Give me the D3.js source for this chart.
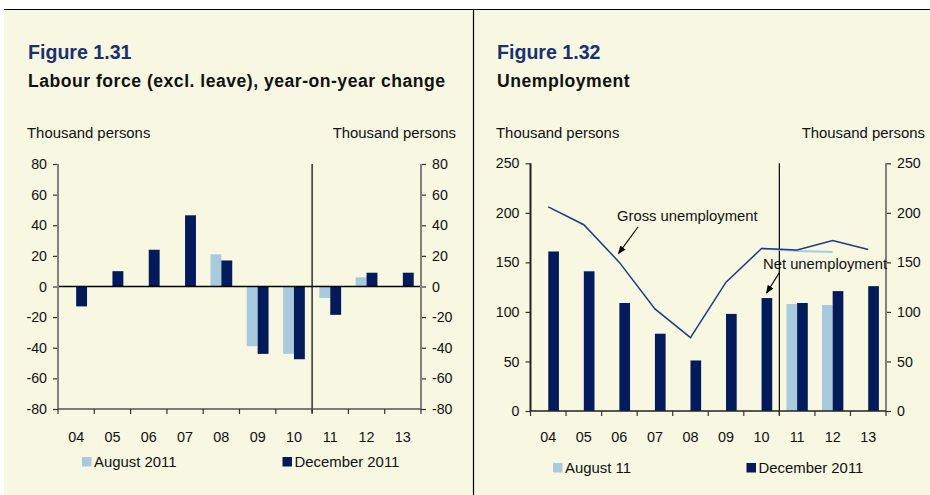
<!DOCTYPE html>
<html>
<head>
<meta charset="utf-8">
<script src="https://cdn.jsdelivr.net/npm/d3@7"></script>
<style>
  html, body { margin: 0; padding: 0; background: #fff; }
  svg { display: block; font-family: "Liberation Sans", Arial, sans-serif; }
</style>
</head>
<body>
<svg id="chart" width="930" height="495"></svg>
<script>
// Categories (years) shared by both figures
const years = ["04", "05", "06", "07", "08", "09", "10", "11", "12", "13"];

// Figure 1.31 – labour force, year-on-year change (thousand persons)
const labourAug = [null, null, null, null, 21, -39, -44, -7.5, 6, null];
const labourDec = [-13, 10, 24, 46.5, 17, -44, -47.5, -18.5, 9, 9];
const labourTicks = [-80, -60, -40, -20, 0, 20, 40, 60, 80];

// Figure 1.32 – net unemployment bars and gross unemployment lines
const netAug = [null, null, null, null, null, null, null, 108, 107, null];
const netDec = [161, 141, 109, 78, 51, 98, 114, 109, 121, 126];
const grossAug = [null, null, null, null, null, null, 164, 161.5, 160.5, null];
const grossDec = [206, 188, 150, 103, 74, 130, 164, 162.5, 172, 163];
const unempTicks = [0, 50, 100, 150, 200, 250];

const C = {
  cream: "#F7F7E2",
  navy: "#031B5B",
  light: "#A8CADC",
  title: "#1A3070",
  line: "#1E3A85",
  axisGrey: "#808080",
  text: "#111"
};

const svg = d3.select("#chart");

// Page frame
svg.append("rect").attr("x", 4).attr("y", 9).attr("width", 926).attr("height", 486).attr("fill", C.cream);
svg.append("line").attr("x1", 4).attr("x2", 930).attr("y1", 9.5).attr("y2", 9.5).attr("stroke", "#000").attr("stroke-width", 1.2);
svg.append("line").attr("x1", 473.5).attr("x2", 473.5).attr("y1", 9).attr("y2", 495).attr("stroke", "#000").attr("stroke-width", 1.2);

// Arrow marker for annotations
svg.append("defs").append("marker")
  .attr("id", "arrow").attr("viewBox", "0 0 10 10").attr("refX", 9).attr("refY", 5)
  .attr("markerWidth", 7).attr("markerHeight", 7).attr("orient", "auto")
  .append("path").attr("d", "M0,1 L10,5 L0,9 Z").attr("fill", "#000");

function panel(opt) {
  const g = svg.append("g");

  g.append("text").attr("x", opt.left).attr("y", 59.3).attr("fill", C.title)
    .attr("font-size", 19.6).attr("font-weight", "bold").text(opt.fig);
  g.append("text").attr("x", opt.left).attr("y", 87.3).attr("fill", C.text)
    .attr("font-size", 17.6).attr("font-weight", "bold").attr("letter-spacing", 0.5).text(opt.title);
  g.append("text").attr("x", opt.left - 1).attr("y", 138).attr("fill", C.text)
    .attr("font-size", 14.9).text("Thousand persons");
  g.append("text").attr("x", opt.unitRight).attr("y", 138).attr("fill", C.text)
    .attr("font-size", 14.9).attr("text-anchor", "end").text("Thousand persons");

  const x = d3.scaleBand().domain(years).range([opt.x0, opt.x1]).padding(0);
  const y = d3.scaleLinear().domain(opt.domain).range([opt.yBottom, opt.yTop]);
  const bw = x.bandwidth() * 0.3;
  const cx = d => x(d) + x.bandwidth() / 2;

  // Bars: August slot left of band centre, December slot right of it
  const series = [
    { vals: opt.aug, color: C.light, off: -bw },
    { vals: opt.dec, color: C.navy, off: 0 }
  ];
  series.forEach(s => {
    g.append("g").selectAll("rect")
      .data(years.map((yr, i) => ({ yr, v: s.vals[i] })).filter(d => d.v != null))
      .join("rect")
      .attr("x", d => cx(d.yr) + s.off)
      .attr("width", bw)
      .attr("y", d => Math.min(y(d.v), y(opt.base)))
      .attr("height", d => Math.abs(y(d.v) - y(opt.base)))
      .attr("fill", s.color);
  });

  // Zero line
  if (opt.zeroLine) {
    g.append("line").attr("x1", opt.x0).attr("x2", opt.x1)
      .attr("y1", y(0)).attr("y2", y(0)).attr("stroke", "#000").attr("stroke-width", 1.6);
  }

  // Divider between outcome and projection years
  g.append("line").attr("x1", x("11")).attr("x2", x("11"))
    .attr("y1", opt.yTop).attr("y2", opt.yBottom + 4)
    .attr("stroke", "#000").attr("stroke-width", 1.2);

  // Y axes (plain hyphen for negative numbers)
  const fmt = d => String(d);
  const leftAx = g.append("g").attr("transform", `translate(${opt.x0},0)`)
    .call(d3.axisLeft(y).tickValues(opt.ticks).tickSize(5).tickPadding(6).tickFormat(fmt));
  const rightAx = g.append("g").attr("transform", `translate(${opt.x1},0)`)
    .call(d3.axisRight(y).tickValues(opt.ticks).tickSize(5).tickPadding(6).tickFormat(fmt));
  [[leftAx, opt.leftAxisColor], [rightAx, C.axisGrey]].forEach(([ax, col]) => {
    ax.select(".domain").remove();
    ax.append("line").attr("x1", 0).attr("x2", 0).attr("y1", opt.yTop).attr("y2", opt.yBottom)
      .attr("stroke", col).attr("stroke-width", 2);
    ax.selectAll(".tick line").attr("stroke", "#333").attr("stroke-width", 1.2);
    ax.selectAll(".tick text").attr("font-size", 14.2).attr("fill", C.text)
      .attr("font-family", "Liberation Sans, Arial, sans-serif");
  });

  // X axis: ticks at band boundaries, labels centred in bands
  const xa = g.append("g").attr("transform", `translate(0,${opt.yBottom})`);
  xa.append("line").attr("x1", opt.x0).attr("x2", opt.x1).attr("y1", 0).attr("y2", 0)
    .attr("stroke", opt.bottomAxisColor).attr("stroke-width", 1.6);
  xa.selectAll("line.tk").data(years.concat(["end"])).join("line").attr("class", "tk")
    .attr("x1", d => d === "end" ? opt.x1 : x(d)).attr("x2", d => d === "end" ? opt.x1 : x(d))
    .attr("y1", 0).attr("y2", 5).attr("stroke", "#333").attr("stroke-width", 1.2);
  xa.selectAll("text").data(years).join("text")
    .attr("x", d => cx(d)).attr("y", opt.labelY - opt.yBottom)
    .attr("text-anchor", "middle").attr("font-size", 14.4).attr("fill", C.text).text(d => d);

  // Legend
  opt.legend.forEach(l => {
    g.append("rect").attr("x", l.x).attr("y", opt.legendY - 9.5).attr("width", 9.5).attr("height", 9.5).attr("fill", l.color);
    g.append("text").attr("x", l.x + 12).attr("y", opt.legendY).attr("font-size", 14.9).attr("fill", C.text).text(l.label);
  });

  return { g, x, y, cx };
}

// Figure 1.31
panel({
  fig: "Figure 1.31",
  title: "Labour force (excl. leave), year-on-year change",
  left: 28, unitRight: 456,
  x0: 58, x1: 421, yTop: 164, yBottom: 409,
  domain: [-80, 80], ticks: labourTicks, base: 0, zeroLine: true,
  aug: labourAug, dec: labourDec,
  leftAxisColor: C.axisGrey, bottomAxisColor: "#555",
  labelY: 442,
  legendY: 466.5,
  legend: [
    { x: 82, color: C.light, label: "August 2011" },
    { x: 282.5, color: C.navy, label: "December 2011" }
  ]
});

// Figure 1.32
const p2 = panel({
  fig: "Figure 1.32",
  title: "Unemployment",
  left: 497, unitRight: 925,
  x0: 530.5, x1: 886, yTop: 163.3, yBottom: 411,
  domain: [0, 250], ticks: unempTicks, base: 0, zeroLine: false,
  aug: netAug, dec: netDec,
  leftAxisColor: "#222", bottomAxisColor: "#222",
  labelY: 442,
  legendY: 472.5,
  legend: [
    { x: 553, color: C.light, label: "August 11" },
    { x: 746.5, color: C.navy, label: "December 2011" }
  ]
});

// Gross unemployment lines (points at band centres)
const lineGen = d3.line()
  .defined(d => d.v != null)
  .x(d => p2.cx(d.yr))
  .y(d => p2.y(d.v));
p2.g.append("path")
  .datum(years.map((yr, i) => ({ yr, v: grossAug[i] })))
  .attr("d", lineGen).attr("fill", "none").attr("stroke", C.light).attr("stroke-width", 2);
p2.g.append("path")
  .datum(years.map((yr, i) => ({ yr, v: grossDec[i] })))
  .attr("d", lineGen).attr("fill", "none").attr("stroke", C.line).attr("stroke-width", 1.5);

// Annotations
p2.g.append("text").attr("x", 617).attr("y", 220.5).attr("font-size", 14.8).attr("fill", C.text).text("Gross unemployment");
p2.g.append("line").attr("x1", 638).attr("y1", 227).attr("x2", 618.5).attr("y2", 253.5)
  .attr("stroke", "#000").attr("stroke-width", 1.2).attr("marker-end", "url(#arrow)");
p2.g.append("text").attr("x", 763).attr("y", 268.5).attr("font-size", 14.8).attr("fill", C.text).text("Net unemployment");
p2.g.append("line").attr("x1", 779.5).attr("y1", 272.5).attr("x2", 766.5).attr("y2", 293)
  .attr("stroke", "#000").attr("stroke-width", 1.2).attr("marker-end", "url(#arrow)");
</script>
</body>
</html>
